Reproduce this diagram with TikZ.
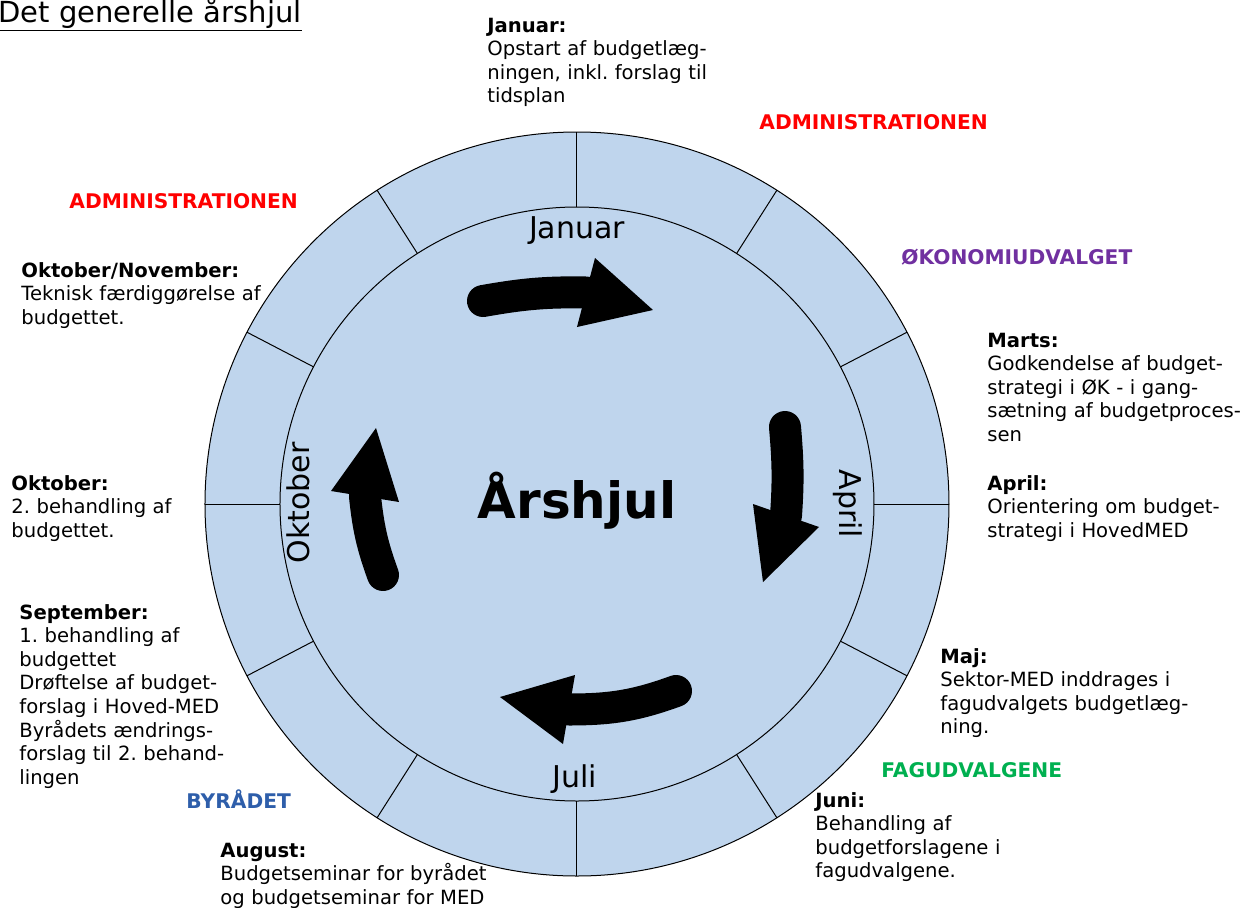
\documentclass[tikz,border=0pt]{standalone}
\usepackage{fontspec}
\setmainfont{DejaVu Sans}
\definecolor{ringblue}{RGB}{191,213,237}
\definecolor{admred}{RGB}{255,0,0}
\definecolor{okpurple}{RGB}{112,48,160}
\definecolor{faggreen}{RGB}{0,176,80}
\definecolor{byblue}{RGB}{46,94,170}

\tikzset{
  month/.style={anchor=base, inner sep=0pt, font=\fontsize{15}{18}\selectfont},
  textblock/.style={anchor=base west, inner sep=0pt, text width=150pt, align=left,
    font=\fontsize{9.8}{11.8}\selectfont},
  orgname/.style={anchor=base west, inner sep=0pt, font=\fontsize{10.1}{12}\selectfont\bfseries},
  shaft/.style={line width=16pt, line cap=round}
}

\begin{document}
\frenchspacing
\begin{tikzpicture}[x=0.5pt, y=0.5pt]
  \useasboundingbox (-577,-403) rectangle (666,504);

  \fill[ringblue] (0,0) circle [radius=186pt];
  \draw[line width=0.5pt] (0,0) circle [radius=186pt];
  \draw[line width=0.5pt] (0,0) circle [radius=148.5pt];
  \foreach \a in {0,27.5,57.5,90,122.5,152.5,180,207.5,237.5,270,302.5,332.5}
    \draw[line width=0.5pt] (\a:148.5pt) -- (\a:186pt);

  \node (jan) [month] at (0,266) {Januar};
  \node (apr) [month, rotate=-90] at (263,0) {April};
  \node (jul) [month] at (-2,-283) {Juli};
  \node (okt) [month, rotate=90] at (-267,1) {Oktober};

  \node (hub) [anchor=base, inner sep=0pt, font=\fontsize{25}{30}\selectfont\bfseries] at (0,-14) {Årshjul};

  \coordinate (s1) at (-94,203);  \coordinate (b1) at (9,211.5);
  \coordinate (s2) at (208,77);   \coordinate (b2) at (209,-11.5);
  \coordinate (s3) at (99,-187);  \coordinate (b3) at (-8,-205.5);
  \coordinate (s4) at (-194,-71); \coordinate (b4) at (-212,7.5);
  \draw[shaft] (s1) to[out=10, in=179] (b1);
  \draw[shaft] (s2) to[out=-85, in=86] (b2);
  \draw[shaft] (s3) to[out=200, in=0] (b3);
  \draw[shaft] (s4) to[out=110, in=276] (b4);
  \fill (18,246) -- (76,194) -- (0,177) -- cycle;
  \fill (176,0) -- (186,-78) -- (242,-23) -- cycle;
  \fill (-2,-171) -- (-77,-193) -- (-14,-240) -- cycle;
  \fill (-246,13) -- (-201,76) -- (-178,2) -- cycle;

  \node (title) [anchor=base west, inner sep=0pt, font=\fontsize{14.5}{17}\selectfont] at (-579,482) {\underline{Det generelle årshjul}};

  \node (admA) [orgname, text=admred] at (182,375) {ADMINISTRATIONEN};
  \node (admB) [orgname, text=admred] at (-508,296) {ADMINISTRATIONEN};
  \node (oku) [orgname, text=okpurple] at (324,240) {ØKONOMIUDVALGET};
  \node (fag) [orgname, text=faggreen] at (304,-273) {FAGUDVALGENE};
  \node (byr) [orgname, text=byblue] at (-391,-304) {BYRÅDET};

  \node (tjan) [textblock] at (-90,472) {\textbf{Januar:}\\Opstart af budgetlæg-\\ningen, inkl. forslag til\\tidsplan};
  \node (tnov) [textblock] at (-556,227) {\textbf{Oktober/November:}\\Teknisk færdiggørelse af\\budgettet.};
  \node (tmar) [textblock] at (410,157) {\textbf{Marts:}\\Godkendelse af budget-\\strategi i ØK - i gang-\\sætning af budgetproces-\\sen};
  \node (tapr) [textblock] at (410,14) {\textbf{April:}\\Orientering om budget-\\strategi i HovedMED};
  \node (tokt) [textblock] at (-566,14) {\textbf{Oktober:}\\2. behandling af\\budgettet.};
  \node (tsep) [textblock] at (-558,-115) {\textbf{September:}\\1. behandling af\\budgettet\\Drøftelse af budget-\\forslag i Hoved-MED\\Byrådets ændrings-\\forslag til 2. behand-\\lingen};
  \node (tmaj) [textblock] at (363,-159) {\textbf{Maj:}\\Sektor-MED inddrages i\\fagudvalgets budgetlæg-\\ning.};
  \node (tjun) [textblock] at (238,-303) {\textbf{Juni:}\\Behandling af\\budgetforslagene i\\fagudvalgene.};
  \node (taug) [textblock] at (-357,-353) {\textbf{August:}\\Budgetseminar for byrådet\\og budgetseminar for MED};
\end{tikzpicture}
\end{document}
